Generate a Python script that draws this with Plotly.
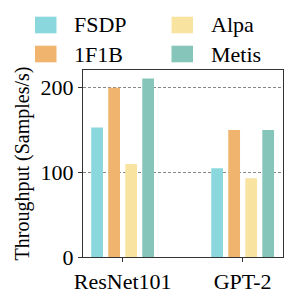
import plotly.graph_objects as go

categories = ["ResNet101", "GPT-2"]
series_names = ["FSDP", "1F1B", "Alpa", "Metis"]
fsdp = [153, 105]
f1b = [200, 150]
alpa = [110, 93]
metis = [211, 150]
values = [fsdp, f1b, alpa, metis]
colors = ["#8AD8DD", "#F0B46E", "#F9E3A0", "#86C5B9"]
y_ticks = [0, 100, 200]

FONT = "Times New Roman, Liberation Serif, serif"

fig = go.Figure()
for name, vals, col in zip(series_names, values, colors):
    fig.add_trace(go.Bar(x=categories, y=vals, name=name, marker_color=col,
                         marker_line_width=0, showlegend=False))

# the page body adds an 8px offset; figure coordinates are screen coordinates minus 8
OFF = 8
W, H = 294 - OFF, 294 - OFF
ml, mr, mt, mb = 83 - OFF, 11, 70 - OFF, 37
pw, ph = W - ml - mr, H - mt - mb
def px_to_paper(x, y):
    x -= OFF
    y -= OFF
    return (x - ml) / pw, (H - mb - y) / ph

# custom legend (2 columns: FSDP/1F1B left, Alpa/Metis right), screen pixel positions
legend_pos = [(35, 25), (35, 54), (171.5, 25), (171.5, 54)]
for (x, y), name, col in zip(legend_pos, series_names, colors):
    x0, y0 = px_to_paper(x, y - 8.3)
    x1, y1 = px_to_paper(x + 21.5, y + 8.3)
    fig.add_shape(type="rect", xref="paper", yref="paper", x0=x0, x1=x1, y0=y0, y1=y1,
                  fillcolor=col, line_width=0)
    tx, ty = px_to_paper(x + 37, y)
    fig.add_annotation(xref="paper", yref="paper", x=tx, y=ty, text=name, showarrow=False,
                       xanchor="left", yanchor="middle", font=dict(family=FONT, size=22, color="black"))

fig.update_layout(
    width=W, height=H,
    margin=dict(l=ml, r=mr, t=mt, b=mb, autoexpand=False),
    plot_bgcolor="white", paper_bgcolor="white",
    barmode="group", bargap=0.433, bargroupgap=0.31,
    font=dict(family=FONT, size=20, color="black"),
)
fig.update_xaxes(range=[-0.33, 1.336], showline=True, linecolor="#333", linewidth=1.3, mirror=True,
                 ticks="outside", ticklen=4, tickcolor="#333", showgrid=False, automargin=False,
                 tickfont=dict(family=FONT, size=22, color="black"))
fig.update_yaxes(range=[0, 221], tickvals=y_ticks, showline=True, linecolor="#333", linewidth=1.3,
                 mirror=True, ticks="outside", ticklen=4, tickcolor="#333", automargin=False,
                 showgrid=True, gridcolor="#888", griddash="3px,2px", gridwidth=1, zeroline=False,
                 title=dict(text="Throughput (Samples/s)", font=dict(family=FONT, size=20, color="black"), standoff=5),
                 tickfont=dict(family=FONT, size=22, color="black"))

fig.write_html("out.html")
